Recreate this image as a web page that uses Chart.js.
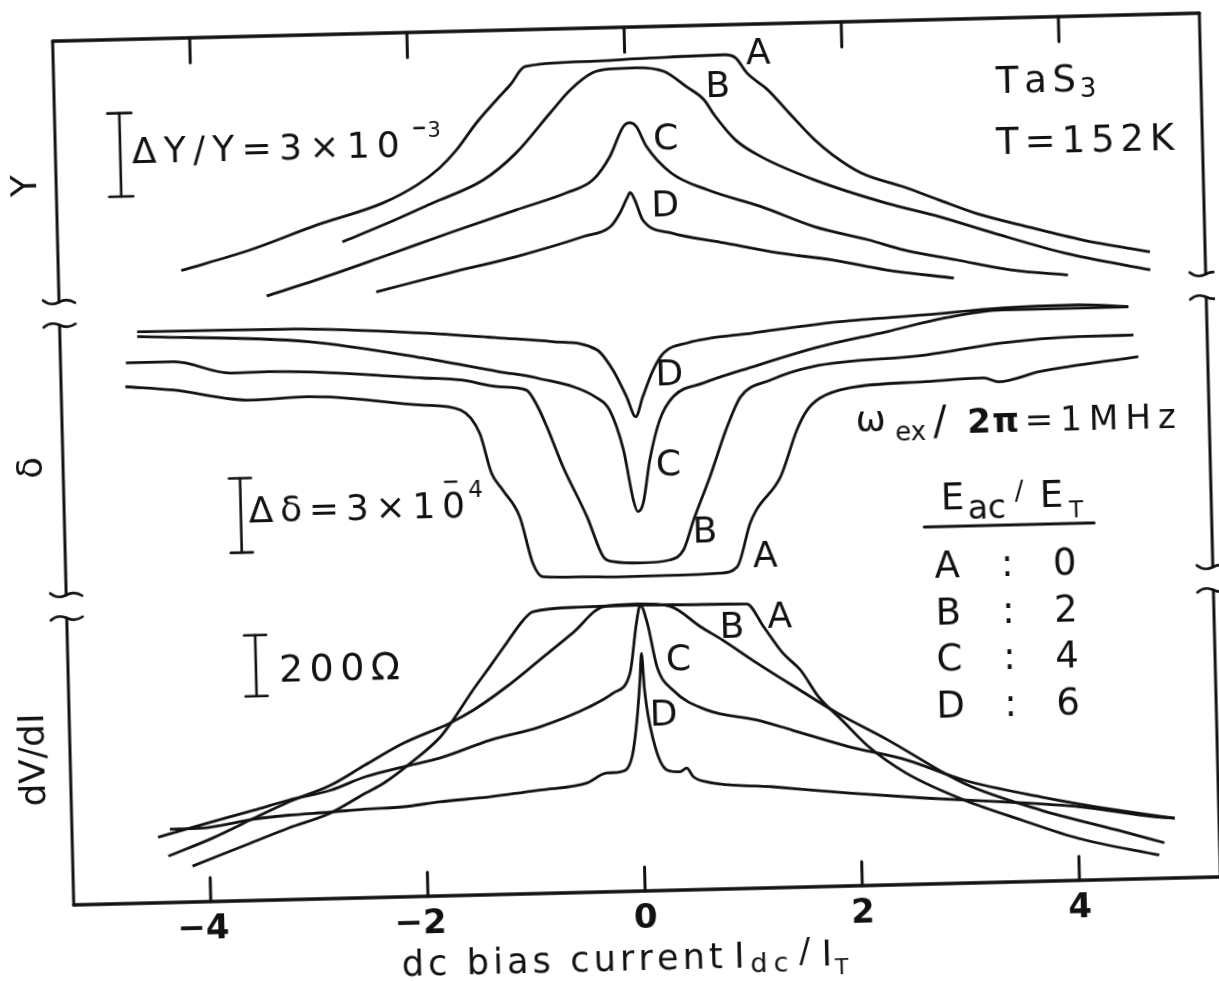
<!DOCTYPE html>
<html>
<head>
<meta charset="utf-8">
<script src="https://cdn.jsdelivr.net/npm/chart.js@4.4.1/dist/chart.umd.min.js"></script>
<style>
  html, body { margin: 0; padding: 0; background: #fff; overflow: hidden; }
  #sheet { position: absolute; left: 0; top: 0; width: 1219px; height: 981px;
           transform: rotate(-1.4deg); transform-origin: 638.5px 458px; }
  canvas { display: block; }
</style>
</head>
<body>
<div id="sheet"><canvas id="c" width="1219" height="981"></canvas></div>
<script>
// ---------------------------------------------------------------
// TaS3, T = 152 K : Young's modulus Y, internal friction delta and
// differential resistance dV/dI versus dc bias current Idc/IT,
// for four rf amplitudes Eac/ET (traces A-D), w_ex/2pi = 1 MHz.
// ---------------------------------------------------------------
const xTicks = [-4, -2, 0, 2, 4];
const traceNames = ['A', 'B', 'C', 'D'];
const acRatio = [0, 2, 4, 6];              // Eac / ET

// Young's modulus: relative change in units of 1e-3 (traces offset)
const youngA = [[-4.13,1.46],[-3.49,2.14],[-2.87,2.98],[-2.26,3.71],[-1.94,4.33],[-1.73,4.92],[-1.57,5.55],[-1.38,6.51],[-1.19,7.32],[-1.06,7.85],[-0.92,8.49],[-0.39,8.62],[0.23,8.69],[0.92,8.74],[1.02,8.62],[1.12,8.07],[1.31,7.44],[1.50,6.59],[1.73,5.60],[1.89,5.05],[2.15,4.37],[2.54,3.83],[2.86,3.33],[3.19,2.83],[3.68,2.28],[4.17,1.77],[4.79,1.28]];
const youngB = [[-2.64,2.35],[-2.26,2.92],[-1.80,3.67],[-1.33,4.45],[-1.02,5.40],[-0.70,6.80],[-0.51,7.61],[-0.30,8.21],[-0.14,8.33],[0.10,8.35],[0.36,8.19],[0.56,7.63],[0.72,7.14],[0.81,6.59],[1.00,5.67],[1.23,5.05],[1.72,4.16],[2.37,3.27],[2.86,2.73],[3.35,2.10],[4.00,1.32],[4.79,0.63]];
const youngC = [[-3.35,0.47],[-2.89,1.00],[-2.27,1.78],[-1.65,2.58],[-1.03,3.35],[-0.57,3.91],[-0.32,4.36],[-0.16,5.18],[-0.03,6.24],[0.03,6.38],[0.09,6.24],[0.18,5.51],[0.40,4.54],[0.73,3.90],[1.22,3.25],[1.71,2.48],[2.20,1.96],[2.53,1.56],[3.01,1.16],[3.51,0.75],[4.03,0.52]];
const youngD = [[-2.34,0.52],[-1.66,1.14],[-1.04,1.67],[-0.42,2.33],[-0.17,2.66],[-0.08,3.14],[-0.01,3.68],[0.02,3.87],[0.06,3.60],[0.13,2.87],[0.39,2.38],[0.88,1.97],[1.37,1.57],[1.86,1.27],[2.36,0.86],[2.98,0.51]];

// internal friction: units of 1e-4 (traces offset)
const deltaA = [[-4.67,8.70],[-4.23,8.52],[-3.52,8.04],[-2.99,8.12],[-1.94,7.67],[-1.59,7.43],[-1.42,6.48],[-1.32,4.86],[-1.22,4.16],[-1.07,3.07],[-0.96,1.19],[-0.87,0.63],[-0.53,0.59],[-0.16,0.55],[0.39,0.56],[0.76,0.60],[0.92,0.84],[1.05,2.59],[1.11,3.11],[1.34,4.43],[1.50,6.29],[1.60,7.09],[1.72,7.56],[1.99,7.94],[2.70,8.12],[3.23,8.21],[3.37,8.04],[3.75,8.41],[4.66,8.92]];
const deltaB = [[-4.66,9.66],[-4.22,9.66],[-3.70,9.15],[-3.34,9.17],[-1.93,8.76],[-1.58,8.64],[-1.23,8.33],[-0.98,8.17],[-0.88,7.49],[-0.80,6.67],[-0.66,5.04],[-0.45,3.00],[-0.31,1.38],[-0.22,1.17],[0.03,1.09],[0.30,1.18],[0.43,1.57],[0.53,2.77],[0.69,4.50],[0.86,6.50],[0.99,7.69],[1.27,8.34],[1.65,8.83],[2.70,9.19],[3.41,9.60],[4.11,9.78],[4.62,9.79]];
const deltaC = [[-4.55,10.71],[-2.98,10.34],[-1.93,9.57],[-1.23,8.94],[-0.88,8.65],[-0.33,7.78],[-0.22,7.29],[-0.10,5.66],[-0.02,3.63],[0.02,3.16],[0.07,3.50],[0.14,5.23],[0.24,6.83],[0.37,7.76],[0.65,8.28],[1.11,8.89],[1.73,9.63],[2.35,10.17],[2.89,10.67],[3.42,10.93],[4.58,10.93]];
const deltaD = [[-4.55,10.90],[-3.12,10.86],[-1.92,10.57],[-1.22,10.30],[-0.73,10.10],[-0.32,9.72],[-0.18,8.90],[-0.06,7.81],[0.02,6.99],[0.09,7.79],[0.19,8.85],[0.29,9.53],[0.51,9.91],[1.12,10.25],[1.92,10.62],[2.71,10.81],[3.42,11.01],[4.12,11.06],[4.58,10.94]];

// differential resistance dV/dI in ohms (common offset)
const resA = [[-4.16,117.7],[-3.62,188.5],[-3.27,234.4],[-2.88,280.3],[-2.55,343.3],[-2.38,374.4],[-2.13,438.0],[-1.85,521.6],[-1.73,575.4],[-1.54,672.1],[-1.38,747.2],[-1.22,823.6],[-1.06,897.7],[-0.97,924.3],[-0.54,935.7],[0.02,937.7],[0.57,934.4],[1.00,932.5],[1.15,856.7],[1.32,768.9],[1.48,711.5],[1.64,622.6],[1.85,544.3],[2.09,454.8],[2.43,365.3],[2.96,272.1],[3.48,202.3],[4.00,137.7],[4.74,76.4]];
const resB = [[-4.38,152.5],[-3.97,207.9],[-3.58,270.2],[-3.26,320.7],[-2.87,372.1],[-2.55,435.1],[-2.19,504.0],[-1.76,565.9],[-1.54,606.6],[-1.23,680.3],[-0.92,765.2],[-0.61,851.1],[-0.32,935.1],[-0.02,941.3],[0.29,931.8],[0.57,861.6],[0.77,816.1],[1.08,738.0],[1.47,645.9],[1.81,567.5],[2.27,475.1],[2.96,326.9],[3.66,233.4],[4.36,161.6],[4.79,116.4]];
const resC = [[-4.47,215.4],[-4.08,251.5],[-3.58,296.4],[-3.26,326.2],[-2.87,355.7],[-2.55,396.7],[-2.20,426.2],[-1.86,451.8],[-1.39,506.9],[-0.93,546.6],[-0.47,608.2],[-0.25,651.1],[-0.09,715.4],[-0.02,878.7],[0.02,937.6],[0.08,878.0],[0.16,734.1],[0.30,656.4],[0.61,588.0],[1.07,551.1],[1.39,515.4],[1.91,456.4],[2.44,408.0],[2.96,337.7],[3.66,277.0],[4.36,227.2],[4.89,196.4]];
const resD = [[-4.36,240.7],[-4.08,241.6],[-3.58,266.9],[-3.26,277.0],[-2.88,283.6],[-2.56,290.8],[-2.21,295.1],[-1.87,308.5],[-1.41,321.0],[-0.95,339.0],[-0.51,358.4],[-0.33,389.5],[-0.20,392.5],[-0.09,441.0],[-0.04,550.8],[0.00,691.8],[0.02,779.0],[0.04,658.4],[0.11,493.8],[0.23,394.4],[0.35,387.9],[0.41,399.3],[0.47,370.5],[0.59,352.8],[1.20,331.1],[1.90,304.6],[2.60,282.0],[3.31,263.6],[4.01,241.3],[4.71,202.3],[4.89,196.4]];

// scale bars: dY/Y = 3e-3, d(delta) = 3e-4, 200 ohm
const barYoung = 3;
const barDelta = 3;
const barRes = 200;

const INK = '#121212';
const FONT = '"DejaVu Sans", "Liberation Sans", Arial, sans-serif';

const panels = [
  { axis: 'yY', traces: [youngA, youngB, youngC, youngD] },
  { axis: 'yD', traces: [deltaA, deltaB, deltaC, deltaD] },
  { axis: 'yR', traces: [resA, resB, resC, resD] }
];

const datasets = [];
panels.forEach(p => p.traces.forEach((tr, i) => {
  datasets.push({
    label: p.axis + '-' + traceNames[i],
    yAxisID: p.axis,
    data: tr.map(([x, y]) => ({ x, y })),
    borderColor: INK,
    borderWidth: 2.8,
    pointRadius: 0,
    fill: false,
    cubicInterpolationMode: 'monotone'
  });
}));

// trace labels, placed in data coordinates of each panel
const traceLabels = [
  ['A', 1.23, 8.71, 'yY'], ['B', 0.85, 7.58, 'yY'], ['C', 0.36, 5.73, 'yY'], ['D', 0.34, 3.34, 'yY'],
  ['D', 0.34, 8.62, 'yD'], ['C', 0.31, 4.97, 'yD'], ['B', 0.63, 2.25, 'yD'], ['A', 1.18, 1.19, 'yD'],
  ['A', 1.30, 882, 'yR'], ['B', 0.86, 853, 'yR'], ['C', 0.36, 751, 'yR'], ['D', 0.21, 572, 'yR']
];

// gaps in the side frame between the three panels (canvas px)
const panelBreaks = [[288, 311], [581, 604]];

function setFont(ctx, size, bold) {
  ctx.font = (bold ? 'bold ' : '') + size + 'px ' + FONT;
}
// draw a string with its glyphs spread over a given width
function spaced(ctx, s, x, y, width) {
  const ch = Array.from(s);
  const ws = ch.map(c => ctx.measureText(c).width);
  const sum = ws.reduce((p, q) => p + q, 0);
  const gap = ch.length > 1 ? Math.max(0, (width - sum) / (ch.length - 1)) : 0;
  ctx.textAlign = 'left';
  let cx = x;
  ch.forEach((c, i) => { ctx.fillText(c, cx, y); cx += ws[i] + gap; });
}
function seg(ctx, x0, y0, x1, y1) {
  ctx.beginPath(); ctx.moveTo(x0, y0); ctx.lineTo(x1, y1); ctx.stroke();
}
function tilde(ctx, x, y, dir) {
  ctx.beginPath();
  ctx.moveTo(x - 16, y - 2 * dir);
  ctx.bezierCurveTo(x - 10, y + 3 * dir, x - 4, y + 2 * dir, x, y);
  ctx.bezierCurveTo(x + 4, y - 2 * dir, x + 10, y - 3 * dir, x + 16, y + 1 * dir);
  ctx.stroke();
}

const decorations = {
  id: 'decorations',
  afterDraw(chart) {
    const { ctx, chartArea: a, scales } = chart;
    const X = v => scales.x.getPixelForValue(v);
    const Yp = (axis, v) => scales[axis].getPixelForValue(v);
    ctx.save();
    ctx.strokeStyle = INK;
    ctx.fillStyle = INK;
    ctx.lineCap = 'round';

    // frame
    ctx.lineWidth = 3.4;
    seg(ctx, a.left, a.top, a.right, a.top);
    seg(ctx, a.left, a.bottom, a.right, a.bottom);
    const spans = [[a.top, panelBreaks[0][0]], [panelBreaks[0][1], panelBreaks[1][0]], [panelBreaks[1][1], a.bottom]];
    [a.left, a.right].forEach(xe => {
      ctx.lineWidth = 3;
      spans.forEach(([s0, s1]) => seg(ctx, xe, s0, xe, s1));
      ctx.lineWidth = 2.6;
      panelBreaks.forEach(([e, s]) => { tilde(ctx, xe, e, 1); tilde(ctx, xe, s, -1); });
    });

    // inward ticks on top and bottom
    ctx.lineWidth = 3;
    xTicks.forEach(v => {
      const x = X(v);
      seg(ctx, x, a.top, x, a.top + 25);
      seg(ctx, x, a.bottom, x, a.bottom - 24);
    });

    // tick labels
    setFont(ctx, 34, true);
    ctx.textAlign = 'center';
    ctx.textBaseline = 'alphabetic';
    xTicks.forEach(v => {
      const s = v < 0 ? '\u2212' + Math.abs(v) : String(v);
      ctx.fillText(s, X(v) + (v < 0 ? -8 : 0), 928);
    });

    // axis title: dc bias current Idc/IT
    setFont(ctx, 35, false);
    spaced(ctx, 'dc bias current', 389.5, 970, 321);
    ctx.textAlign = 'left';
    ctx.fillText('I', 722, 970);
    setFont(ctx, 27, false);
    spaced(ctx, 'dc', 738, 975, 38);
    setFont(ctx, 33, false);
    ctx.fillText('/', 787, 966);
    setFont(ctx, 35, false);
    ctx.fillText('I', 809.5, 970);
    setFont(ctx, 22, false);
    ctx.fillText('T', 822.5, 979);

    // panel names on the left, read bottom to top
    setFont(ctx, 36, false);
    ctx.textBaseline = 'middle';
    ctx.textAlign = 'center';
    [['Y', 33.6, 171], ['\u03b4', 32.8, 453], ['dV/dI', 28, 745]].forEach(([s, x, y]) => {
      ctx.save();
      ctx.translate(x, y);
      ctx.rotate(-Math.PI / 2);
      ctx.fillText(s, 0, 0);
      ctx.restore();
    });

    // trace labels
    setFont(ctx, 36, false);
    traceLabels.forEach(([t, x, y, axis]) => ctx.fillText(t, X(x), Yp(axis, y)));

    // scale bars, drawn in the units of their own panel
    ctx.lineWidth = 2.6;
    const bar = (axis, xv, v0, len, half) => {
      const x = X(xv), y0 = Yp(axis, v0), y1 = Yp(axis, v0 + len);
      seg(ctx, x, y0, x, y1);
      seg(ctx, x - half, y0, x + half, y0);
      seg(ctx, x - half, y1, x + half, y1);
    };
    bar('yY', -4.665, 4.17, barYoung, 12);
    bar('yD', -3.636, 1.9, barDelta, 11);
    bar('yR', -3.532, 669.8, barRes, 11);

    ctx.textBaseline = 'alphabetic';
    ctx.textAlign = 'left';
    // dY/Y = 3x10^-3
    setFont(ctx, 36, false);
    spaced(ctx, '\u0394Y/Y=3\u00d710', 139.5, 151, 268);
    ctx.lineWidth = 2.4;
    seg(ctx, 422.5, 122.8, 432, 122.8);
    setFont(ctx, 21, false);
    ctx.fillText('3', 435.5, 132);
    // d(delta) = 3x10^-4
    setFont(ctx, 36, false);
    spaced(ctx, '\u0394\u03b4=3\u00d710', 247.5, 513, 216.4);
    seg(ctx, 444.5, 477.1, 455.8, 477.1);
    setFont(ctx, 23, false);
    ctx.fillText('4', 467.6, 492.7);
    // 200 ohm
    setFont(ctx, 38, false);
    spaced(ctx, '200\u03a9', 273.9, 672.7, 121);

    // sample and temperature
    setFont(ctx, 37, false);
    spaced(ctx, 'TaS', 1005, 101.5, 80);
    setFont(ctx, 26, false);
    ctx.fillText('3', 1088.8, 108.3);
    setFont(ctx, 37, false);
    spaced(ctx, 'T=152K', 1003.8, 162.5, 178);

    // excitation frequency
    setFont(ctx, 36, false);
    ctx.fillText('\u03c9', 856.5, 437);
    setFont(ctx, 26, false);
    ctx.fillText('ex', 895.8, 446.7);
    setFont(ctx, 40, false);
    ctx.fillText('/', 934, 442);
    setFont(ctx, 34, true);
    spaced(ctx, '2\u03c0', 968, 441, 52);
    setFont(ctx, 34, false);
    spaced(ctx, '=1MHz', 1025.6, 441, 151);

    // Eac/ET table
    setFont(ctx, 37, false);
    ctx.fillText('E', 939.8, 517);
    setFont(ctx, 33, false);
    ctx.fillText('ac', 966.4, 526.5);
    setFont(ctx, 26, false);
    ctx.fillText('/', 1013.8, 509);
    setFont(ctx, 37, false);
    ctx.fillText('E', 1038.8, 517);
    setFont(ctx, 23, false);
    ctx.fillText('T', 1067.8, 527.8);
    ctx.lineWidth = 3;
    seg(ctx, 922.5, 534, 1092.4, 534);

    setFont(ctx, 37, false);
    ctx.textBaseline = 'middle';
    ctx.textAlign = 'center';
    traceNames.forEach((n, i) => {
      const y = 575.5 + i * 46.6;
      ctx.fillText(n, 944.5, y);
      ctx.fillText(':', 1004.5, y);
      ctx.fillText(String(acRatio[i]), 1062, y);
    });

    ctx.restore();
  }
};

new Chart(document.getElementById('c'), {
  type: 'line',
  data: { datasets },
  options: {
    responsive: false,
    animation: false,
    devicePixelRatio: 1,
    layout: { padding: { left: 63, right: 9, top: 27, bottom: 90 } },
    plugins: { legend: { display: false }, tooltip: { enabled: false } },
    scales: {
      x:  { type: 'linear', min: -5.262, max: 5.298, display: false },
      yY: { type: 'linear', position: 'left', min: -21.259, max: 9.82, display: false },
      yD: { type: 'linear', position: 'left', min: -12.137, max: 22.702, display: false },
      yR: { type: 'linear', position: 'left', min: 0, max: 2832.8, display: false }
    }
  },
  plugins: [decorations]
});
</script>
</body>
</html>
